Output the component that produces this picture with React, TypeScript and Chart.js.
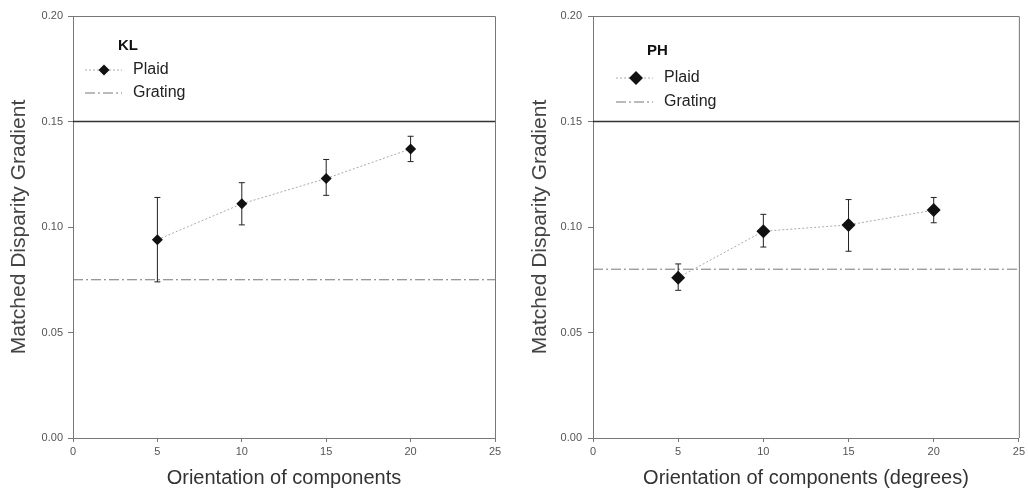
import React, { useEffect, useRef } from "react";
import { Chart, registerables } from "chart.js";

Chart.register(...registerables);

// ---- data ----
const orientations = [5, 10, 15, 20];
const xTickValues = [0, 5, 10, 15, 20, 25];
const yTickValues = [0, 0.05, 0.1, 0.15, 0.2];
const xRange = [0, 25];
const referenceLevel = 0.15;

const klPlaid = [0.094, 0.111, 0.123, 0.137];
const klErrHigh = [0.114, 0.121, 0.132, 0.143];
const klErrLow = [0.074, 0.101, 0.115, 0.131];
const klGrating = 0.075;

const phPlaid = [0.076, 0.098, 0.101, 0.108];
const phErrHigh = [0.0825, 0.106, 0.113, 0.114];
const phErrLow = [0.07, 0.0905, 0.0885, 0.102];
const phGrating = 0.08;

const FONT = "'Liberation Sans', Arial, sans-serif";

type PanelProps = {
  left: number;
  width: number;
  title: string;
  plaid: number[];
  errHigh: number[];
  errLow: number[];
  grating: number;
  xTitle: string;
  yAxisWidth: number;
  rightPad: number;
  yTitlePad: number;
  tickPad: number;
  markerRadius: number;
  legend: { titleDx: number; titleDy: number; lineX0: number; lineX1: number; markX: number; textX: number; y1: number; y2: number };
};

function Panel(p: PanelProps) {
  const ref = useRef<HTMLCanvasElement | null>(null);
  useEffect(() => {
    const canvas = ref.current;
    if (!canvas) return;

    const errorBars = {
      id: "errorBars",
      afterDatasetsDraw(chart: any) {
        const xs = chart.scales.x;
        const ys = chart.scales.y;
        const ctx = chart.ctx;
        ctx.save();
        ctx.strokeStyle = "#222";
        ctx.lineWidth = 1;
        orientations.forEach((o, i) => {
          const x = xs.getPixelForValue(o);
          const yh = ys.getPixelForValue(p.errHigh[i]);
          const yl = ys.getPixelForValue(p.errLow[i]);
          ctx.beginPath();
          ctx.moveTo(x, yh);
          ctx.lineTo(x, yl);
          ctx.moveTo(x - 3, yh);
          ctx.lineTo(x + 3, yh);
          ctx.moveTo(x - 3, yl);
          ctx.lineTo(x + 3, yl);
          ctx.stroke();
        });
        // redraw markers on top
        ctx.fillStyle = "#111";
        orientations.forEach((o, i) => {
          const x = xs.getPixelForValue(o);
          const y = ys.getPixelForValue(p.plaid[i]);
          const r = p.markerRadius;
          ctx.beginPath();
          ctx.moveTo(x, y - r);
          ctx.lineTo(x + r, y);
          ctx.lineTo(x, y + r);
          ctx.lineTo(x - r, y);
          ctx.closePath();
          ctx.fill();
        });
        ctx.restore();
      },
    };

    const frame = {
      id: "frameAndLegend",
      afterDraw(chart: any) {
        const { left, top, right, bottom } = chart.chartArea;
        const ctx = chart.ctx;
        ctx.save();
        ctx.strokeStyle = "#777";
        ctx.lineWidth = 1;
        ctx.beginPath();
        ctx.moveTo(left, top + 0.5);
        ctx.lineTo(right + 0.5, top + 0.5);
        ctx.lineTo(right + 0.5, bottom);
        ctx.stroke();

        const L = p.legend;
        ctx.fillStyle = "#111";
        ctx.font = `bold 15px ${FONT}`;
        ctx.textBaseline = "middle";
        ctx.textAlign = "left";
        ctx.fillText(p.title, left + L.titleDx, top + L.titleDy);

        // Plaid sample
        ctx.strokeStyle = "#aaa";
        ctx.setLineDash([2, 2]);
        ctx.beginPath();
        ctx.moveTo(left + L.lineX0, top + L.y1);
        ctx.lineTo(left + L.lineX1, top + L.y1);
        ctx.stroke();
        const r = p.markerRadius;
        const mx = left + L.markX;
        const my = top + L.y1;
        ctx.fillStyle = "#111";
        ctx.beginPath();
        ctx.moveTo(mx, my - r);
        ctx.lineTo(mx + r, my);
        ctx.lineTo(mx, my + r);
        ctx.lineTo(mx - r, my);
        ctx.closePath();
        ctx.fill();

        // Grating sample
        ctx.strokeStyle = "#777";
        ctx.setLineDash([10, 3, 2, 3]);
        ctx.beginPath();
        ctx.moveTo(left + L.lineX0, top + L.y2);
        ctx.lineTo(left + L.lineX1, top + L.y2);
        ctx.stroke();
        ctx.setLineDash([]);

        ctx.fillStyle = "#222";
        ctx.font = `16px ${FONT}`;
        ctx.fillText("Plaid", left + L.textX, top + L.y1);
        ctx.fillText("Grating", left + L.textX, top + L.y2);
        ctx.restore();
      },
    };

    const chart = new Chart(canvas, {
      type: "scatter",
      data: {
        datasets: [
          {
            label: "Reference",
            data: xRange.map((x) => ({ x, y: referenceLevel })),
            showLine: true,
            borderColor: "#333",
            borderWidth: 1.5,
            pointRadius: 0,
          },
          {
            label: "Grating",
            data: xRange.map((x) => ({ x, y: p.grating })),
            showLine: true,
            borderColor: "#777",
            borderWidth: 1,
            borderDash: [10, 3, 2, 3],
            pointRadius: 0,
          },
          {
            label: "Plaid",
            data: orientations.map((x, i) => ({ x, y: p.plaid[i] })),
            showLine: true,
            borderColor: "#aaa",
            borderWidth: 1,
            borderDash: [2, 2],
            pointStyle: "rectRot",
            pointRadius: 0,
            backgroundColor: "#111",
          },
        ],
      },
      options: {
        animation: false,
        responsive: true,
        maintainAspectRatio: false,
        layout: { padding: { top: 16, right: p.rightPad, left: 0, bottom: 0 } },
        plugins: { legend: { display: false }, tooltip: { enabled: false } },
        scales: {
          x: {
            type: "linear",
            min: 0,
            max: 25,
            afterBuildTicks: (s: any) => {
              s.ticks = xTickValues.map((v) => ({ value: v }));
            },
            afterFit: (s: any) => {
              s.height = 57;
            },
            ticks: { font: { family: FONT, size: 11 }, color: "#555", padding: 3, callback: (v: any) => String(v) },
            grid: { drawOnChartArea: false, tickLength: 4, color: "#777" },
            border: { color: "#777" },
            title: { display: true, text: p.xTitle, font: { family: FONT, size: 20 }, color: "#333", padding: { top: 0, bottom: 5 } },
          },
          y: {
            type: "linear",
            min: 0,
            max: 0.2,
            afterBuildTicks: (s: any) => {
              s.ticks = yTickValues.map((v) => ({ value: v }));
            },
            afterFit: (s: any) => {
              s.width = p.yAxisWidth;
            },
            ticks: { font: { family: FONT, size: 11 }, color: "#555", padding: p.tickPad, callback: (v: any) => Number(v).toFixed(2) },
            grid: { drawOnChartArea: false, tickLength: 5, color: "#777" },
            border: { color: "#777" },
            title: { display: true, text: "Matched Disparity Gradient", font: { family: FONT, size: 21 }, color: "#444", padding: { top: p.yTitlePad, bottom: 0 } },
          },
        },
      },
      plugins: [errorBars, frame],
    } as any);
    return () => chart.destroy();
  }, []);
  return (
    <div style={{ position: "absolute", left: p.left, top: 0, width: p.width, height: 495 }}>
      <canvas ref={ref} />
    </div>
  );
}

export default function App() {
  return (
    <div style={{ position: "absolute", left: 0, top: 0, width: 1028, height: 495, background: "#fff" }}>
      <Panel
        left={0}
        width={514}
        title="KL"
        plaid={klPlaid}
        errHigh={klErrHigh}
        errLow={klErrLow}
        grating={klGrating}
        xTitle="Orientation of components"
        yAxisWidth={73}
        rightPad={19}
        yTitlePad={7}
        tickPad={5}
        markerRadius={5.5}
        legend={{ titleDx: 45, titleDy: 30, lineX0: 12, lineX1: 49, markX: 31, textX: 60, y1: 54, y2: 77 }}
      />
      <Panel
        left={514}
        width={514}
        title="PH"
        plaid={phPlaid}
        errHigh={phErrHigh}
        errLow={phErrLow}
        grating={phGrating}
        xTitle="Orientation of components (degrees)"
        yAxisWidth={79}
        rightPad={6}
        yTitlePad={14}
        tickPad={6}
        markerRadius={7}
        legend={{ titleDx: 54, titleDy: 35, lineX0: 23, lineX1: 60, markX: 43, textX: 71, y1: 62, y2: 86 }}
      />
    </div>
  );
}
